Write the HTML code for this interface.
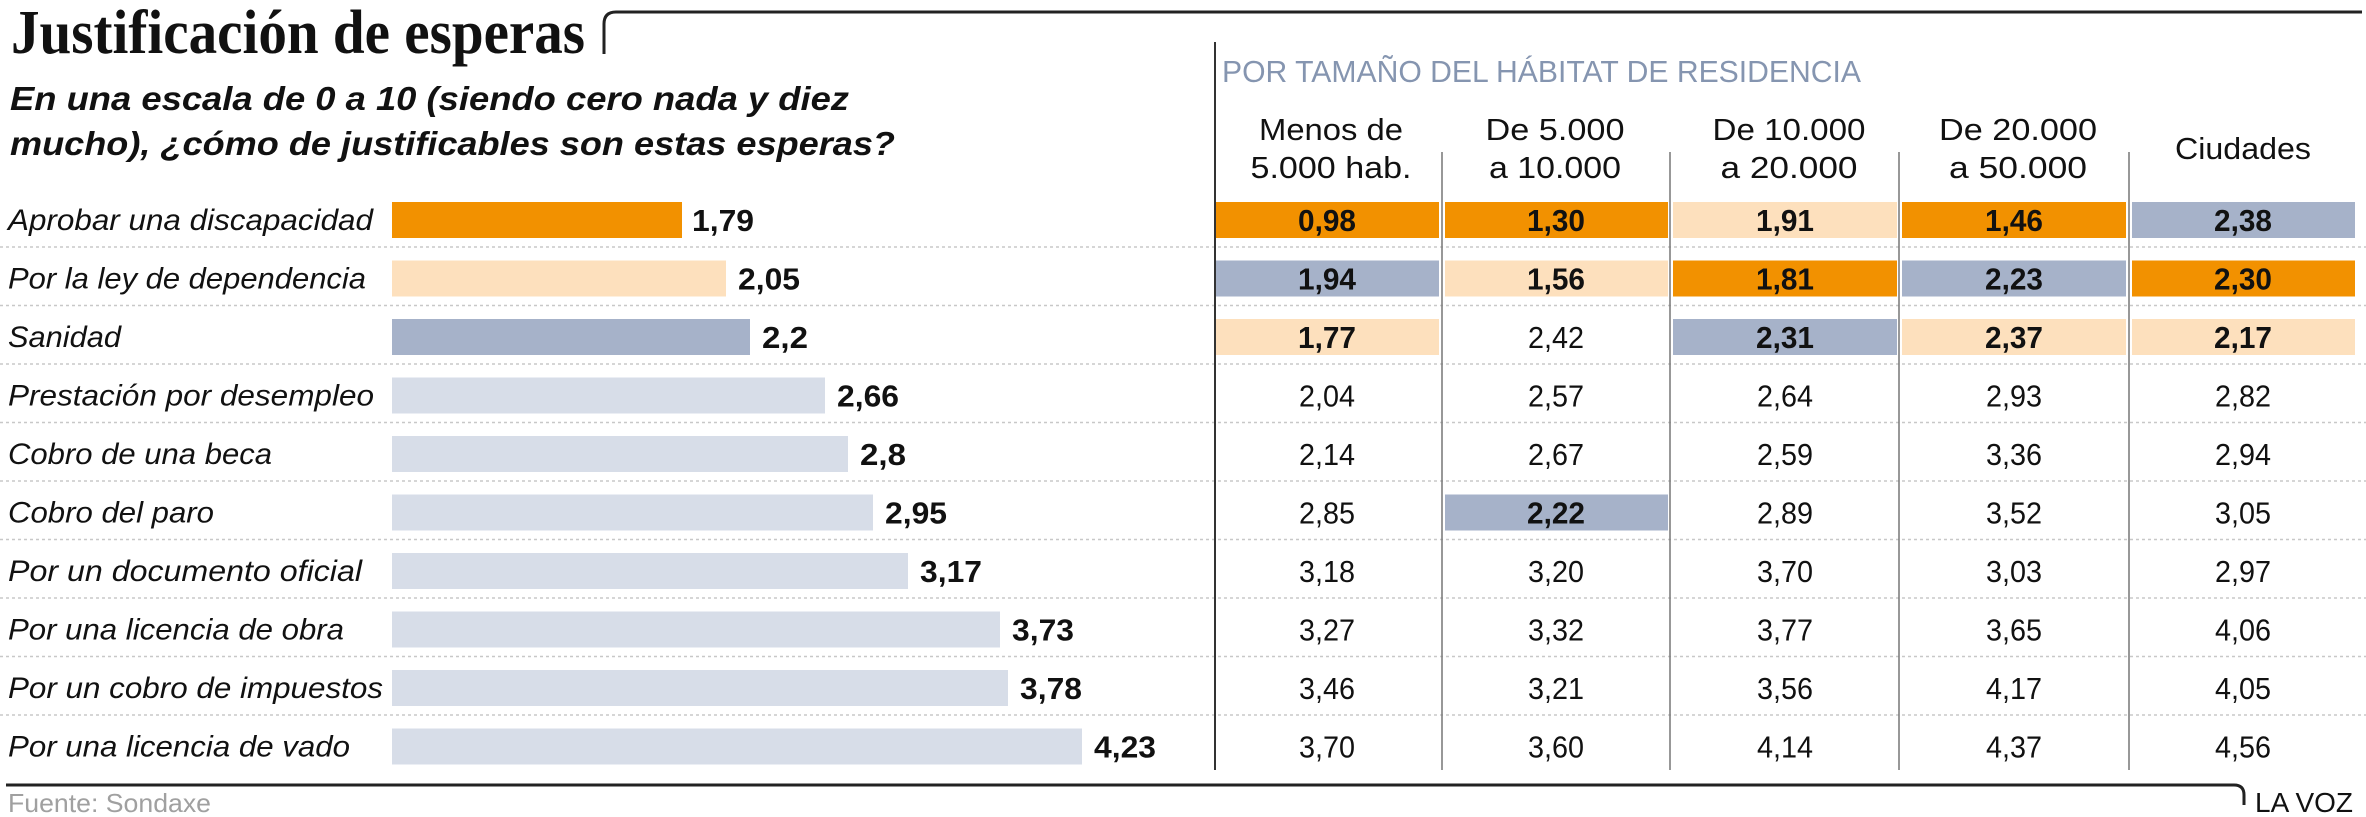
<!DOCTYPE html>
<html><head><meta charset="utf-8"><style>
html,body{margin:0;padding:0;background:#fff;}
svg{display:block;}
text{font-family:"Liberation Sans",sans-serif;}
</style></head><body>
<svg width="2366" height="817" viewBox="0 0 2366 817" xmlns="http://www.w3.org/2000/svg">
<rect width="2366" height="817" fill="#fff"/>
<text x="11" y="53" style="font-family:'Liberation Serif',serif" font-weight="bold" font-size="62" textLength="574" lengthAdjust="spacingAndGlyphs" fill="#111">Justificación de esperas</text>
<path d="M604,54 L604,24 Q604,12 616,12 L2362,12" fill="none" stroke="#222" stroke-width="3"/>
<text x="10" y="110" font-weight="bold" font-style="italic" font-size="33" textLength="839" lengthAdjust="spacingAndGlyphs" fill="#111">En una escala de 0 a 10 (siendo cero nada y diez</text>
<text x="10" y="155" font-weight="bold" font-style="italic" font-size="33" textLength="885" lengthAdjust="spacingAndGlyphs" fill="#111">mucho), ¿cómo de justificables son estas esperas?</text>

<text x="1222" y="82" font-size="31" textLength="639" lengthAdjust="spacingAndGlyphs" fill="#8595b0">POR TAMAÑO DEL HÁBITAT DE RESIDENCIA</text>
<g font-size="31" fill="#111" text-anchor="middle">
<text x="1331" y="140" textLength="144" lengthAdjust="spacingAndGlyphs">Menos de</text>
<text x="1331" y="178" textLength="161" lengthAdjust="spacingAndGlyphs">5.000 hab.</text>
<text x="1555" y="140" textLength="139" lengthAdjust="spacingAndGlyphs">De 5.000</text>
<text x="1555" y="178" textLength="132" lengthAdjust="spacingAndGlyphs">a 10.000</text>
<text x="1789" y="140" textLength="153" lengthAdjust="spacingAndGlyphs">De 10.000</text>
<text x="1789" y="178" textLength="137" lengthAdjust="spacingAndGlyphs">a 20.000</text>
<text x="2018" y="140" textLength="158" lengthAdjust="spacingAndGlyphs">De 20.000</text>
<text x="2018" y="178" textLength="138" lengthAdjust="spacingAndGlyphs">a 50.000</text>
<text x="2243" y="159" textLength="136" lengthAdjust="spacingAndGlyphs">Ciudades</text>
</g>

<g stroke="#c8c8c8" stroke-width="1.5" stroke-dasharray="3,3">
<line x1="0" x2="2366" y1="247" y2="247"/>
<line x1="0" x2="2366" y1="305.5" y2="305.5"/>
<line x1="0" x2="2366" y1="364" y2="364"/>
<line x1="0" x2="2366" y1="422.5" y2="422.5"/>
<line x1="0" x2="2366" y1="481" y2="481"/>
<line x1="0" x2="2366" y1="539.5" y2="539.5"/>
<line x1="0" x2="2366" y1="598" y2="598"/>
<line x1="0" x2="2366" y1="656.5" y2="656.5"/>
<line x1="0" x2="2366" y1="715" y2="715"/>
</g>

<line x1="1215" x2="1215" y1="42" y2="770" stroke="#333" stroke-width="2"/>
<g stroke="#777" stroke-width="1.5">
<line x1="1442" x2="1442" y1="152" y2="770"/>
<line x1="1670" x2="1670" y1="152" y2="770"/>
<line x1="1899" x2="1899" y1="152" y2="770"/>
<line x1="2129" x2="2129" y1="152" y2="770"/>
</g>

<g>
<rect x="392" y="202" width="290" height="36" fill="#f29100"/>
<rect x="392" y="260.5" width="334" height="36" fill="#fde0bd"/>
<rect x="392" y="319" width="358" height="36" fill="#a6b2c9"/>
<rect x="392" y="377.5" width="433" height="36" fill="#d7dde8"/>
<rect x="392" y="436" width="456" height="36" fill="#d7dde8"/>
<rect x="392" y="494.5" width="481" height="36" fill="#d7dde8"/>
<rect x="392" y="553" width="516" height="36" fill="#d7dde8"/>
<rect x="392" y="611.5" width="608" height="36" fill="#d7dde8"/>
<rect x="392" y="670" width="616" height="36" fill="#d7dde8"/>
<rect x="392" y="728.5" width="690" height="36" fill="#d7dde8"/>
</g>
<g font-size="30" font-style="italic" fill="#111">
<text x="8" y="230" textLength="365" lengthAdjust="spacingAndGlyphs">Aprobar una discapacidad</text>
<text x="8" y="288.5" textLength="358" lengthAdjust="spacingAndGlyphs">Por la ley de dependencia</text>
<text x="8" y="347" textLength="113" lengthAdjust="spacingAndGlyphs">Sanidad</text>
<text x="8" y="405.5" textLength="366" lengthAdjust="spacingAndGlyphs">Prestación por desempleo</text>
<text x="8" y="464" textLength="264" lengthAdjust="spacingAndGlyphs">Cobro de una beca</text>
<text x="8" y="522.5" textLength="206" lengthAdjust="spacingAndGlyphs">Cobro del paro</text>
<text x="8" y="581" textLength="354" lengthAdjust="spacingAndGlyphs">Por un documento oficial</text>
<text x="8" y="639.5" textLength="336" lengthAdjust="spacingAndGlyphs">Por una licencia de obra</text>
<text x="8" y="698" textLength="375" lengthAdjust="spacingAndGlyphs">Por un cobro de impuestos</text>
<text x="8" y="756.5" textLength="342" lengthAdjust="spacingAndGlyphs">Por una licencia de vado</text>
</g>
<g font-size="31" font-weight="bold" fill="#111">
<text x="692" y="231" textLength="62" lengthAdjust="spacingAndGlyphs">1,79</text>
<text x="738" y="289.5" textLength="62" lengthAdjust="spacingAndGlyphs">2,05</text>
<text x="762" y="348" textLength="46" lengthAdjust="spacingAndGlyphs">2,2</text>
<text x="837" y="406.5" textLength="62" lengthAdjust="spacingAndGlyphs">2,66</text>
<text x="860" y="465" textLength="46" lengthAdjust="spacingAndGlyphs">2,8</text>
<text x="885" y="523.5" textLength="62" lengthAdjust="spacingAndGlyphs">2,95</text>
<text x="920" y="582" textLength="62" lengthAdjust="spacingAndGlyphs">3,17</text>
<text x="1012" y="640.5" textLength="62" lengthAdjust="spacingAndGlyphs">3,73</text>
<text x="1020" y="699" textLength="62" lengthAdjust="spacingAndGlyphs">3,78</text>
<text x="1094" y="757.5" textLength="62" lengthAdjust="spacingAndGlyphs">4,23</text>
</g>

<g>
<rect x="1216" y="202" width="223" height="36" fill="#f29100"/>
<rect x="1445" y="202" width="223" height="36" fill="#f29100"/>
<rect x="1673" y="202" width="224" height="36" fill="#fde0bd"/>
<rect x="1902" y="202" width="224" height="36" fill="#f29100"/>
<rect x="2132" y="202" width="223" height="36" fill="#a6b2c9"/>
<rect x="1216" y="260.5" width="223" height="36" fill="#a6b2c9"/>
<rect x="1445" y="260.5" width="223" height="36" fill="#fde0bd"/>
<rect x="1673" y="260.5" width="224" height="36" fill="#f29100"/>
<rect x="1902" y="260.5" width="224" height="36" fill="#a6b2c9"/>
<rect x="2132" y="260.5" width="223" height="36" fill="#f29100"/>
<rect x="1216" y="319" width="223" height="36" fill="#fde0bd"/>
<rect x="1673" y="319" width="224" height="36" fill="#a6b2c9"/>
<rect x="1902" y="319" width="224" height="36" fill="#fde0bd"/>
<rect x="2132" y="319" width="223" height="36" fill="#fde0bd"/>
<rect x="1445" y="494.5" width="223" height="36" fill="#a6b2c9"/>
</g>
<g font-size="31" text-anchor="middle" fill="#111">
<g font-weight="bold">
<text x="1327" y="231" textLength="58" lengthAdjust="spacingAndGlyphs">0,98</text>
<text x="1556" y="231" textLength="58" lengthAdjust="spacingAndGlyphs">1,30</text>
<text x="1785" y="231" textLength="58" lengthAdjust="spacingAndGlyphs">1,91</text>
<text x="2014" y="231" textLength="58" lengthAdjust="spacingAndGlyphs">1,46</text>
<text x="2243" y="231" textLength="58" lengthAdjust="spacingAndGlyphs">2,38</text>
<text x="1327" y="289.5" textLength="58" lengthAdjust="spacingAndGlyphs">1,94</text>
<text x="1556" y="289.5" textLength="58" lengthAdjust="spacingAndGlyphs">1,56</text>
<text x="1785" y="289.5" textLength="58" lengthAdjust="spacingAndGlyphs">1,81</text>
<text x="2014" y="289.5" textLength="58" lengthAdjust="spacingAndGlyphs">2,23</text>
<text x="2243" y="289.5" textLength="58" lengthAdjust="spacingAndGlyphs">2,30</text>
<text x="1327" y="348" textLength="58" lengthAdjust="spacingAndGlyphs">1,77</text>
<text x="1785" y="348" textLength="58" lengthAdjust="spacingAndGlyphs">2,31</text>
<text x="2014" y="348" textLength="58" lengthAdjust="spacingAndGlyphs">2,37</text>
<text x="2243" y="348" textLength="58" lengthAdjust="spacingAndGlyphs">2,17</text>
<text x="1556" y="523.5" textLength="58" lengthAdjust="spacingAndGlyphs">2,22</text>
</g>
<text x="1556" y="348" textLength="56" lengthAdjust="spacingAndGlyphs">2,42</text>
<text x="1327" y="406.5" textLength="56" lengthAdjust="spacingAndGlyphs">2,04</text>
<text x="1556" y="406.5" textLength="56" lengthAdjust="spacingAndGlyphs">2,57</text>
<text x="1785" y="406.5" textLength="56" lengthAdjust="spacingAndGlyphs">2,64</text>
<text x="2014" y="406.5" textLength="56" lengthAdjust="spacingAndGlyphs">2,93</text>
<text x="2243" y="406.5" textLength="56" lengthAdjust="spacingAndGlyphs">2,82</text>
<text x="1327" y="465" textLength="56" lengthAdjust="spacingAndGlyphs">2,14</text>
<text x="1556" y="465" textLength="56" lengthAdjust="spacingAndGlyphs">2,67</text>
<text x="1785" y="465" textLength="56" lengthAdjust="spacingAndGlyphs">2,59</text>
<text x="2014" y="465" textLength="56" lengthAdjust="spacingAndGlyphs">3,36</text>
<text x="2243" y="465" textLength="56" lengthAdjust="spacingAndGlyphs">2,94</text>
<text x="1327" y="523.5" textLength="56" lengthAdjust="spacingAndGlyphs">2,85</text>
<text x="1785" y="523.5" textLength="56" lengthAdjust="spacingAndGlyphs">2,89</text>
<text x="2014" y="523.5" textLength="56" lengthAdjust="spacingAndGlyphs">3,52</text>
<text x="2243" y="523.5" textLength="56" lengthAdjust="spacingAndGlyphs">3,05</text>
<text x="1327" y="582" textLength="56" lengthAdjust="spacingAndGlyphs">3,18</text>
<text x="1556" y="582" textLength="56" lengthAdjust="spacingAndGlyphs">3,20</text>
<text x="1785" y="582" textLength="56" lengthAdjust="spacingAndGlyphs">3,70</text>
<text x="2014" y="582" textLength="56" lengthAdjust="spacingAndGlyphs">3,03</text>
<text x="2243" y="582" textLength="56" lengthAdjust="spacingAndGlyphs">2,97</text>
<text x="1327" y="640.5" textLength="56" lengthAdjust="spacingAndGlyphs">3,27</text>
<text x="1556" y="640.5" textLength="56" lengthAdjust="spacingAndGlyphs">3,32</text>
<text x="1785" y="640.5" textLength="56" lengthAdjust="spacingAndGlyphs">3,77</text>
<text x="2014" y="640.5" textLength="56" lengthAdjust="spacingAndGlyphs">3,65</text>
<text x="2243" y="640.5" textLength="56" lengthAdjust="spacingAndGlyphs">4,06</text>
<text x="1327" y="699" textLength="56" lengthAdjust="spacingAndGlyphs">3,46</text>
<text x="1556" y="699" textLength="56" lengthAdjust="spacingAndGlyphs">3,21</text>
<text x="1785" y="699" textLength="56" lengthAdjust="spacingAndGlyphs">3,56</text>
<text x="2014" y="699" textLength="56" lengthAdjust="spacingAndGlyphs">4,17</text>
<text x="2243" y="699" textLength="56" lengthAdjust="spacingAndGlyphs">4,05</text>
<text x="1327" y="757.5" textLength="56" lengthAdjust="spacingAndGlyphs">3,70</text>
<text x="1556" y="757.5" textLength="56" lengthAdjust="spacingAndGlyphs">3,60</text>
<text x="1785" y="757.5" textLength="56" lengthAdjust="spacingAndGlyphs">4,14</text>
<text x="2014" y="757.5" textLength="56" lengthAdjust="spacingAndGlyphs">4,37</text>
<text x="2243" y="757.5" textLength="56" lengthAdjust="spacingAndGlyphs">4,56</text>
</g>

<path d="M6,785 L2234,785 Q2244,785 2244,795 L2244,805" fill="none" stroke="#222" stroke-width="3"/>
<text x="8" y="812" font-size="26" textLength="203" lengthAdjust="spacingAndGlyphs" fill="#a0a0a0">Fuente: Sondaxe</text>
<text x="2255" y="812" font-size="28" textLength="98" lengthAdjust="spacingAndGlyphs" fill="#111">LA VOZ</text>
</svg>
</body></html>
